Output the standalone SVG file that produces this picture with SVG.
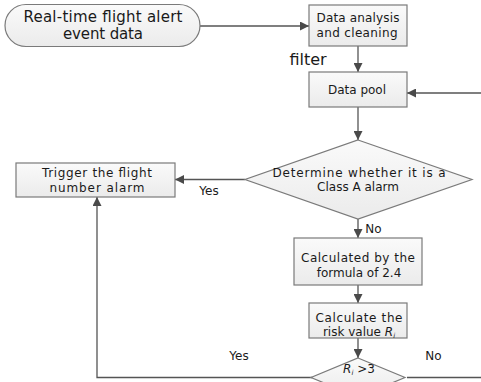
<svg xmlns="http://www.w3.org/2000/svg" width="481" height="382" viewBox="0 0 481 382">
<defs>
<linearGradient id="g" x1="0" y1="0" x2="0" y2="1"><stop offset="0" stop-color="#fafafa"/><stop offset="1" stop-color="#ebebeb"/></linearGradient>
<marker id="a" viewBox="0 0 10 10" refX="10" refY="5" markerWidth="9" markerHeight="9" markerUnits="userSpaceOnUse" orient="auto"><path d="M0,0 L10,5 L0,10 z" fill="#4a4a4a"/></marker>
<style>
.n{fill:url(#g);stroke:#7a7a7a;stroke-width:1.2}
.c{fill:none;stroke:#555;stroke-width:1.3}
text{font-family:"DejaVu Sans",Verdana,sans-serif;font-size:12px;fill:#1a1a1a;text-anchor:middle}
.l{font-size:12px}
</style>
</defs>
<rect width="481" height="382" fill="#fff"/>
<g id="connectors">
<path class="c" d="M200,26 H309" marker-end="url(#a)"/>
<path class="c" d="M358,46 V72" marker-end="url(#a)"/>
<path class="c" d="M481,93 H407" marker-end="url(#a)"/>
<path class="c" d="M358,107 V140" marker-end="url(#a)"/>
<path class="c" d="M245,179.5 H175" marker-end="url(#a)"/>
<path class="c" d="M358,219 V238" marker-end="url(#a)"/>
<path class="c" d="M358,285 V303" marker-end="url(#a)"/>
<path class="c" d="M358,338 V358" marker-end="url(#a)"/>
<path class="c" d="M312,377.5 H97 V197" marker-end="url(#a)"/>
<path class="c" d="M407,377.5 H481"/>
<text x="308" y="65" style="font-size:16px">filter</text>
<text x="209" y="195" class="l">Yes</text>
<text x="373.5" y="233" class="l">No</text>
<text x="239" y="360" class="l">Yes</text>
<text x="433.5" y="360" class="l">No</text>
</g>
<g id="start">
<rect class="n" x="5" y="4.5" width="195" height="42" rx="21" ry="21"/>
<text x="103" y="21.5" style="font-size:15px" textLength="159">Real-time flight alert</text>
<text x="103" y="38.5" style="font-size:15px" textLength="80">event data</text>
</g>
<g id="clean">
<rect class="n" x="309" y="5" width="98" height="41"/>
<text x="358" y="22" textLength="83">Data analysis</text>
<text x="357" y="36.5" textLength="81">and cleaning</text>
</g>
<g id="pool">
<rect class="n" x="309" y="72" width="98" height="35"/>
<text x="357" y="94">Data pool</text>
</g>
<g id="classA">
<path class="n" d="M358,140 L472,179.5 L358,219 L245,179.5 z"/>
<text x="359" y="177" textLength="173">Determine whether it is a</text>
<text x="358" y="191">Class A alarm</text>
</g>
<g id="trigger">
<rect class="n" x="16" y="163" width="159" height="34"/>
<text x="97" y="177" textLength="110">Trigger the flight</text>
<text x="97" y="191.5" textLength="95">number alarm</text>
</g>
<g id="formula">
<rect class="n" x="294" y="238" width="128" height="47"/>
<text x="358" y="262" textLength="114">Calculated by the</text>
<text x="359" y="276.5">formula of 2.4</text>
</g>
<g id="risk">
<rect class="n" x="309" y="303" width="98" height="35"/>
<text x="359" y="321.5" textLength="87">Calculate the</text>
<text x="359" y="335.5">risk value <tspan font-style="italic">R</tspan><tspan font-style="italic" font-size="7" dy="2">i</tspan></text>
</g>
<g id="threshold">
<path class="n" d="M358,358 L405,377.5 L358,397 L311,377.5 z"/>
<text x="359" y="373"><tspan font-style="italic">R</tspan><tspan font-style="italic" font-size="7" dy="2">i</tspan><tspan dy="-2"> &gt;3</tspan></text>
</g>
</svg>
